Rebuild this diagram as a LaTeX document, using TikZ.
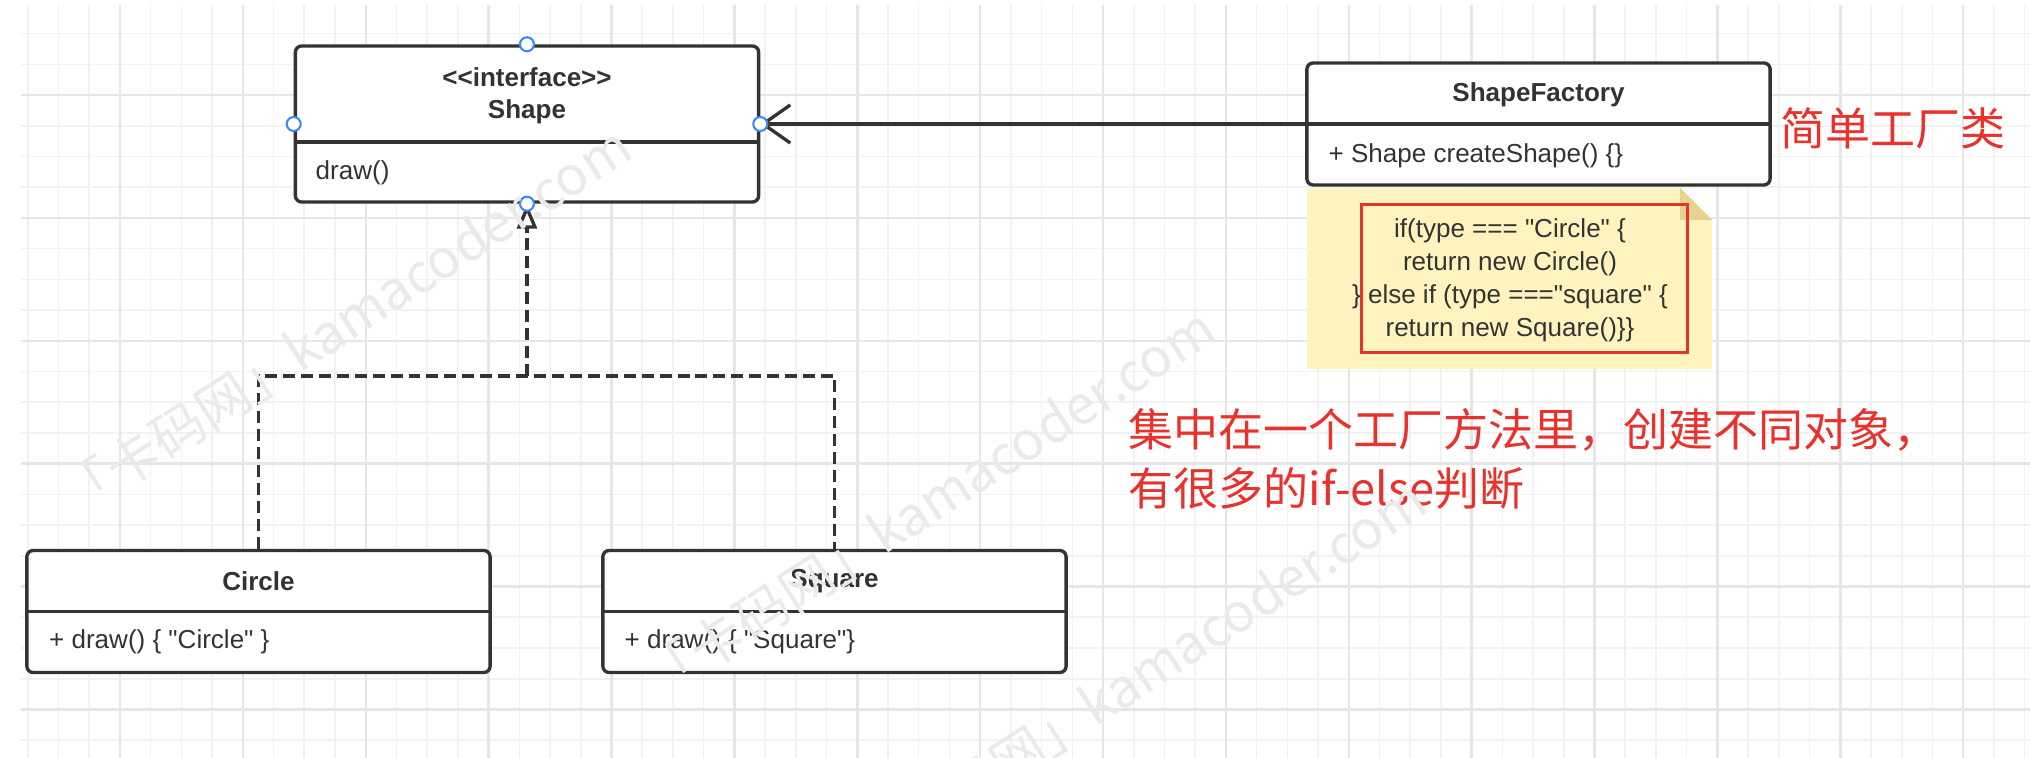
\documentclass[tikz,border=0pt]{standalone}
\usepackage{fontspec}
\newfontfamily\umlfont{Liberation Sans}
\newfontfamily\cjk{Noto Sans CJK SC}
\usepackage{tikz}
\usetikzlibrary{arrows.meta}
\definecolor{umlgray}{HTML}{333333}
\definecolor{handleblue}{HTML}{3C8CF0}
\definecolor{noteyellow}{HTML}{FFF4BF}
\definecolor{notefold}{HTML}{E6D38E}
\definecolor{markred}{HTML}{E8322B}
\definecolor{gridlight}{HTML}{F2F2F2}
\definecolor{griddark}{HTML}{E6E6E6}
\definecolor{wmgray}{HTML}{EAEAEA}
\tikzstyle{classbox}=[draw=umlgray,line width=0.95pt,rounded corners=1.8pt,fill=white,minimum width=4.63cm,minimum height=1.22cm,inner sep=0pt]
\tikzstyle{classname}=[text=umlgray,font=\umlfont\bfseries\fontsize{7.4pt}{9pt}\selectfont,inner sep=0pt]
\tikzstyle{member}=[text=umlgray,font=\umlfont\fontsize{7.4pt}{9pt}\selectfont,inner sep=0pt,anchor=west]
\tikzstyle{assoc}=[draw=umlgray,line width=0.95pt]
\tikzstyle{realize}=[draw=umlgray,line width=0.95pt,dash pattern=on 3.4pt off 1.7pt]
\tikzstyle{handle}=[circle,draw=handleblue,fill=white,line width=0.6pt,minimum size=0.14cm,inner sep=0pt]
\tikzstyle{remark}=[text=markred,font=\cjk\fontsize{12.8pt}{17pt}\selectfont,inner sep=0pt]
\tikzstyle{wmark}=[text=wmgray,font=\cjk\fontsize{15.2pt}{18pt}\selectfont,rotate=33,inner sep=0pt]
\tikzstyle{gridminor}=[draw=gridlight,line width=0.45pt]
\tikzstyle{gridmajor}=[draw=griddark,line width=0.7pt]

\begin{document}
\begin{tikzpicture}[x=0.01cm,y=-0.01cm]
          \useasboundingbox (0,0) rectangle (2030,758);
          \fill[white] (0,0) rectangle (2030,758);

          % grid paper
          \foreach \i in {0,...,65} \draw[gridminor] ({27.8+30.72*\i},5) -- ({27.8+30.72*\i},758);
          \foreach \j in {0,...,23} \draw[gridminor] (21,{33.6+30.72*\j}) -- (2030,{33.6+30.72*\j});
          \foreach \i in {0,...,15} \draw[gridmajor] ({120+122.88*\i},5) -- ({120+122.88*\i},758);
          \foreach \j in {0,...,5} \draw[gridmajor] (21,{95+122.88*\j}) -- (2030,{95+122.88*\j});

          % note under the factory
          \fill[noteyellow] (1307,188) -- (1680,188) -- (1712,220) -- (1712,369) -- (1307,369) -- cycle;
          \fill[notefold] (1680,188) -- (1680,220) -- (1712,220) -- cycle;
          \node[member,anchor=center,align=center,font=\umlfont\fontsize{7.4pt}{9.4pt}\selectfont] (notetext) at (1510,280)
            {if(type === "Circle" \{\\return new Circle()\\\} else if (type ==="square" \{\\return new Square()\}\}};
          \node[draw=markred,line width=0.85pt,minimum width=3.25cm,minimum height=1.47cm,inner sep=0pt] (mark) at (1524.5,278.5) {};

          % classes
          \node[classbox,minimum height=1.56cm] (shapeclass) at (527,124) {};
          \draw[assoc] ([yshift=-0.18cm]shapeclass.west) -- ([yshift=-0.18cm]shapeclass.east);
          \node[classname] (shapestereo) at (527,77) {<<interface>>};
          \node[classname] (shapename) at (527,112) {Shape};
          \node[member] (shapeop) at (315,173) {draw()};

          \node[classbox] (factoryclass) at (1538.5,124) {};
          \draw[assoc] (factoryclass.west) -- (factoryclass.east);
          \node[classname] (factoryname) at (1538.5,95) {ShapeFactory};
          \node[member] (factoryop) at (1328,156) {+ Shape createShape() \{\}};

          \node[classbox] (circleclass) at (258.5,611.5) {};
          \draw[assoc] (circleclass.west) -- (circleclass.east);
          \node[classname] (circlename) at (258.5,581) {Circle};
          \node[member] (circleop) at (48.5,642) {+ draw() \{ "Circle" \}};

          \node[classbox] (squareclass) at (834.5,611.5) {};
          \draw[assoc] (squareclass.west) -- (squareclass.east);
          \node[classname] (squarename) at (834.5,581) {Square};
          \node[member] (squareop) at (624,642) {+ draw() \{ "Square"\}};

          % connectors
          \draw[assoc,-{Straight Barb[length=0.27cm,width=0.38cm]}] (factoryclass.west) -- (shapeclass.east);
          \coordinate (join) at (527,376);
          \draw[realize] (circleclass.north) |- (join) -| (squareclass.north);
          \draw[realize,-{Triangle[length=0.25cm,width=0.2cm,fill=white]}] (join) -- (shapeclass.south);

          \foreach \a in {north,south,east,west} \node[handle] (hd\a) at (shapeclass.\a) {};

          % red remarks
          \node[remark] (simple) at (1893,128) {简单工厂类};
          \node[remark,anchor=west,align=left] (remark) at (1128,459) {集中在一个工厂方法里，创建不同对象，\\有很多的if-else判断};

          % watermarks
          \node[wmark] (wm1) at (345,321) {「卡码网」kamacoder.com};
          \node[wmark] (wm2) at (929,503) {「卡码网」kamacoder.com};
          \node[wmark] (wm3) at (1140,675) {「卡码网」kamacoder.com};
        \end{tikzpicture}
\end{document}
